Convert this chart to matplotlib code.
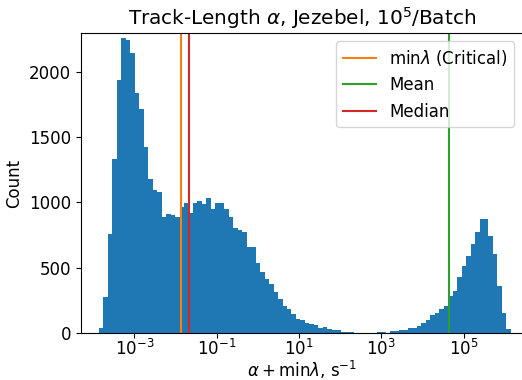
import numpy as np
import matplotlib
matplotlib.use("Agg")
import matplotlib.pyplot as plt
from matplotlib.ticker import NullLocator

# log10 range covered by the histogram bins
log_lo = -3.858
log_hi = 6.147
n_bins = 92

counts = [
    41, 273, 755, 1329, 1936, 2256, 2240, 2141, 1835, 1712,
    1426, 1176, 1092, 1077, 886, 911, 903, 890, 967, 997,
    921, 997, 1013, 987, 1033, 947, 997, 997, 951, 890,
    806, 788, 773, 661, 656, 533, 465, 411, 372, 312,
    258, 204, 181, 148, 109, 100, 79, 67, 59, 36,
    44, 28, 21, 21, 10, 10, 5, 3, 2, 1,
    1, 2, 10, 10, 3, 12, 12, 20, 20, 38,
    38, 56, 74, 100, 135, 156, 181, 205, 280, 318,
    428, 510, 587, 682, 774, 872, 872, 741, 602, 356,
    151, 28,
]

min_lambda = 0.01327
mean_val = 4.45e4
median_val = 0.0212

plt.rcParams["font.size"] = 12

edges = np.logspace(log_lo, log_hi, n_bins + 1)

fig = plt.figure(figsize=(5.22, 3.8), dpi=100)
ax = fig.add_axes([81 / 522, 47 / 380, 441.5 / 522, 300 / 380])

ax.hist(edges[:-1], bins=edges, weights=counts, color="C0")
ax.axvline(min_lambda, color="C1", label=r"$\min\lambda$ (Critical)")
ax.axvline(mean_val, color="C2", label="Mean")
ax.axvline(median_val, color="C3", label="Median")

ax.set_xscale("log")
ax.set_xlim(10 ** -4.295, 10 ** 6.43)
ax.set_ylim(0, 2296)
ax.set_xticks([1e-3, 1e-1, 1e1, 1e3, 1e5])
ax.xaxis.set_minor_locator(NullLocator())
ax.tick_params(axis="x", pad=1)

ax.set_title(r"Track-Length $\alpha$, Jezebel, $10^5$/Batch")
ax.set_xlabel(r"$\alpha + \min\lambda$, s$^{-1}$", labelpad=-0.5)
ax.set_ylabel("Count")
ax.legend(loc="upper right")

fig.savefig("out.png", dpi=100)
